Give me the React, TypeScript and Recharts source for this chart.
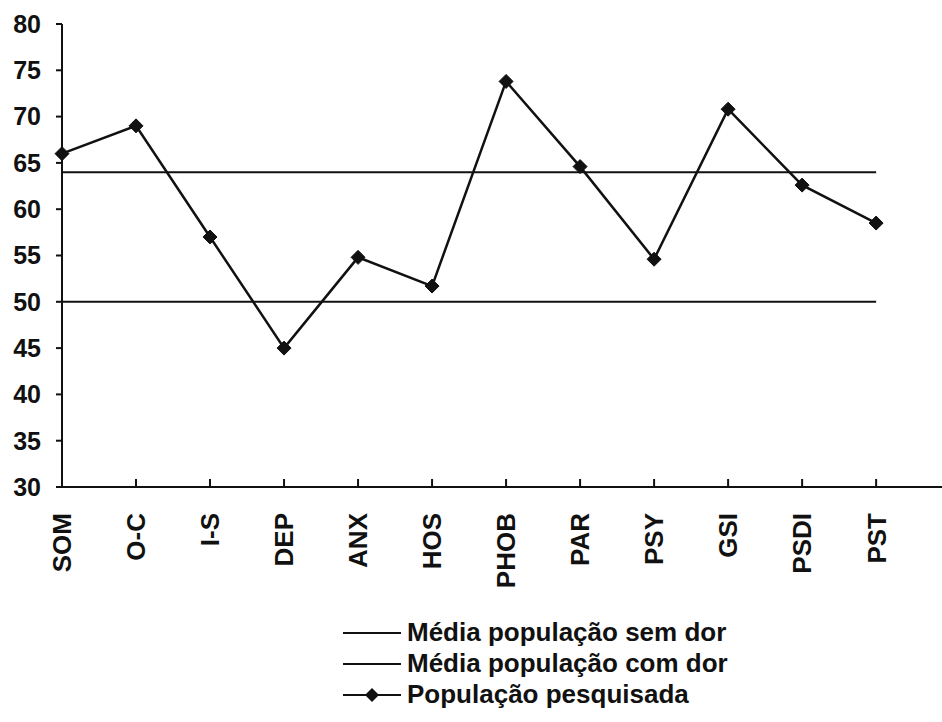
import React from 'react';
import { LineChart, Line, XAxis, YAxis, Legend } from 'recharts';

const categories = ['SOM', 'O-C', 'I-S', 'DEP', 'ANX', 'HOS', 'PHOB', 'PAR', 'PSY', 'GSI', 'PSDI', 'PST'];
const pesquisada = [66, 69, 57, 45, 54.8, 51.7, 73.8, 64.6, 54.6, 70.8, 62.6, 58.5];
const semDor = [50, 50, 50, 50, 50, 50, 50, 50, 50, 50, 50, 50];
const comDor = [64, 64, 64, 64, 64, 64, 64, 64, 64, 64, 64, 64];
const yTicks = [30, 35, 40, 45, 50, 55, 60, 65, 70, 75, 80];

const legendItems = [
  { label: 'Média população sem dor', marker: false },
  { label: 'Média população com dor', marker: false },
  { label: 'População pesquisada', marker: true },
];

const data = categories.map((c, i) => ({
  idx: i,
  name: c,
  pesquisada: pesquisada[i],
  semDor: semDor[i],
  comDor: comDor[i],
}));

const FONT = '"Liberation Sans", Arial, sans-serif';

const Diamond = (props: any) => {
  const { cx, cy } = props;
  if (cx == null || cy == null) return null;
  const r = 7;
  return (
    <polygon
      points={`${cx},${cy - r} ${cx + r},${cy} ${cx},${cy + r} ${cx - r},${cy}`}
      fill="#111"
      stroke="#111"
    />
  );
};

const XTick = (props: any) => {
  const { x, y, payload } = props;
  return (
    <text
      x={0}
      y={0}
      dy="0.36em"
      transform={`translate(${x},${y + 32}) rotate(-90)`}
      textAnchor="end"
      fontFamily={FONT}
      fontWeight="bold"
      fontSize={26}
      fill="#111"
    >
      {categories[payload.value]}
    </text>
  );
};

const LegendBox = () => (
  <div style={{ fontFamily: FONT, fontWeight: 'bold', fontSize: 26, color: '#111', lineHeight: '31px' }}>
    {legendItems.map((item) => (
      <div key={item.label} style={{ display: 'flex', alignItems: 'center', whiteSpace: 'nowrap' }}>
        <svg width={62} height={20} style={{ marginRight: 2 }}>
          <line x1={0} y1={10} x2={58} y2={10} stroke="#111" strokeWidth={2} />
          {item.marker && <polygon points="29,3 36,10 29,17 22,10" fill="#111" />}
        </svg>
        <span>{item.label}</span>
      </div>
    ))}
  </div>
);

export default function App() {
  return (
    <div style={{ position: 'absolute', left: 0, top: 0, width: 942, height: 722, background: '#fff' }}>
      <LineChart width={942} height={722} data={data} margin={{ top: 24, right: 0, bottom: 52, left: 0 }}>
        <XAxis
          dataKey="idx"
          type="number"
          domain={[0, 11.89]}
          ticks={categories.map((_, i) => i)}
          interval={0}
          tick={<XTick />}
          tickLine={{ stroke: '#111', strokeWidth: 2 }}
          tickSize={-8}
          axisLine={{ stroke: '#111', strokeWidth: 2 }}
          height={90}
        />
        <YAxis
          type="number"
          domain={[30, 80]}
          ticks={yTicks}
          interval={0}
          width={62}
          tickSize={6}
          tickMargin={15}
          axisLine={{ stroke: '#111', strokeWidth: 2 }}
          tickLine={{ stroke: '#111', strokeWidth: 2 }}
          tick={{ fontFamily: FONT, fontWeight: 'bold', fontSize: 25, fill: '#111' }}
        />
        <Legend
          content={<LegendBox />}
          wrapperStyle={{ position: 'absolute', left: 343, top: 617, width: 560 }}
        />
        <Line dataKey="semDor" stroke="#111" strokeWidth={2} dot={false} isAnimationActive={false} />
        <Line dataKey="comDor" stroke="#111" strokeWidth={2} dot={false} isAnimationActive={false} />
        <Line
          dataKey="pesquisada"
          stroke="#111"
          strokeWidth={2.5}
          dot={<Diamond />}
          isAnimationActive={false}
        />
      </LineChart>
    </div>
  );
}
